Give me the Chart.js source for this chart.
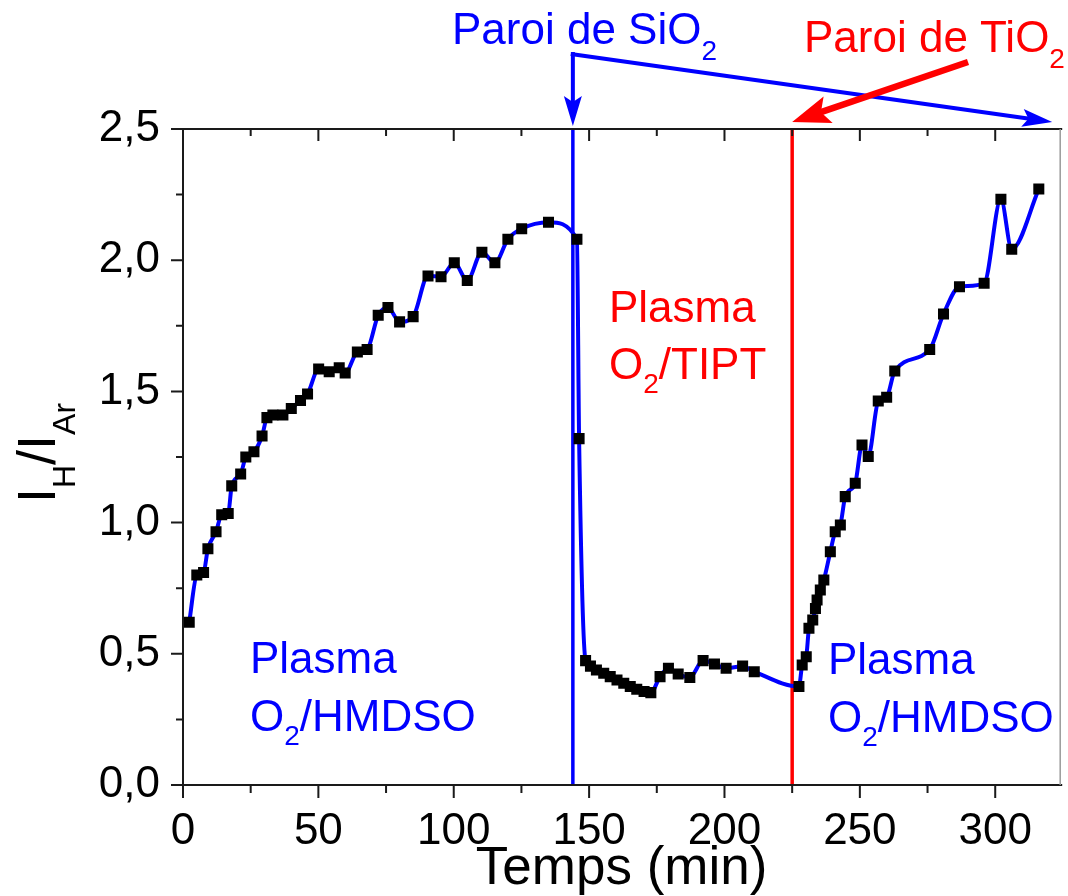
<!DOCTYPE html>
<html>
<head>
<meta charset="utf-8">
<script src="https://cdn.jsdelivr.net/npm/chart.js@4/dist/chart.umd.min.js"></script>
<style>
html,body{margin:0;padding:0;background:#ffffff;}
#wrap{width:1068px;height:896px;position:relative;}
</style>
</head>
<body>
<div id="wrap"><canvas id="c" width="1068" height="896"></canvas></div>
<script>
// ---- data ----
const timeMin = [
  2.3, 5.1, 7.6, 9.2, 12.2, 14.3, 16.7, 18.0, 21.3, 23.2, 26.2, 29.2, 31.0, 33.2, 36.9, 40.0, 43.4, 46.0,
  50.1, 54.0, 57.7, 59.9, 64.4, 68.0, 72.1, 75.7, 80.0, 85.0, 90.5, 95.3, 100.2, 105.0, 110.4, 115.2,
  120.0, 125.1, 135.0, 145.5, 146.3,
  148.7, 150.5, 152.7, 155.4, 157.8, 160.3, 162.8, 165.2, 167.6, 170.3, 172.8, 176.2, 179.3, 182.9,
  187.2, 192.1, 196.3, 200.6, 206.7, 211.0,
  227.5, 228.7, 230.2, 231.2, 232.6, 233.6, 234.2, 235.4, 236.7, 239.1, 240.9, 242.8, 244.6, 248.3,
  250.8, 253.1, 256.8, 259.9, 262.9, 275.8, 280.9, 286.8, 295.9, 302.1, 306.1, 316.1
];
const ratioIH = [
  0.62, 0.80, 0.81, 0.90, 0.965, 1.03, 1.035, 1.14, 1.185, 1.25, 1.27, 1.33, 1.40, 1.41, 1.41, 1.435, 1.465, 1.49,
  1.585, 1.575, 1.59, 1.57, 1.65, 1.66, 1.79, 1.82, 1.765, 1.785, 1.94, 1.937, 1.99, 1.923, 2.03, 1.99,
  2.08, 2.12, 2.145, 2.08, 1.32,
  0.474, 0.453, 0.438, 0.426, 0.413, 0.40, 0.388, 0.375, 0.365, 0.356, 0.352, 0.413, 0.445, 0.423,
  0.41, 0.474, 0.461, 0.445, 0.453, 0.432,
  0.375, 0.457, 0.489, 0.597, 0.629, 0.673, 0.705, 0.743, 0.781, 0.889, 0.965, 0.991, 1.099, 1.15,
  1.296, 1.252, 1.463, 1.478, 1.578, 1.66, 1.795, 1.899, 1.912, 2.232, 2.042, 2.271
];
const xTickValues = [0, 50, 100, 150, 200, 250, 300];
const xMinorValues = [25, 75, 125, 175, 225, 275];
const yTickValues = [0, 0.5, 1.0, 1.5, 2.0, 2.5];
const yMinorValues = [0.25, 0.75, 1.25, 1.75, 2.25];
const wallSiO2 = 144;   // min
const wallTiO2 = 225;   // min
const xLabel = 'Temps (min)';
const labelSiO2 = ['Paroi de SiO', '2'];
const labelTiO2 = ['Paroi de TiO', '2'];

const FONT = '"Liberation Sans", Arial, Helvetica, sans-serif';
const BLUE = '#0000ff';
const RED = '#ff0000';

const points = timeMin.map((t, i) => ({x: t, y: ratioIH[i]}));

function subText(ctx, x, y, parts, bigSize, smallSize, subDrop) {
  let cx = x;
  for (const [txt, sub] of parts) {
    ctx.font = (sub ? smallSize : bigSize) + 'px ' + FONT;
    ctx.fillText(txt, cx, sub ? y + subDrop : y);
    cx += ctx.measureText(txt).width;
  }
  return cx;
}

function arrow(ctx, x1, y1, x2, y2, color, lw, headLen, headW) {
  const ang = Math.atan2(y2 - y1, x2 - x1);
  const bx = x2 - headLen * Math.cos(ang), by = y2 - headLen * Math.sin(ang);
  ctx.save();
  ctx.strokeStyle = color; ctx.fillStyle = color; ctx.lineWidth = lw; ctx.lineCap = 'butt';
  ctx.beginPath(); ctx.moveTo(x1, y1); ctx.lineTo(bx + headLen * 0.3 * Math.cos(ang), by + headLen * 0.3 * Math.sin(ang)); ctx.stroke();
  const px = -Math.sin(ang), py = Math.cos(ang);
  ctx.beginPath();
  ctx.moveTo(x2, y2);
  ctx.lineTo(bx + px * headW / 2, by + py * headW / 2);
  ctx.lineTo(x2 - headLen * 0.8 * Math.cos(ang), y2 - headLen * 0.8 * Math.sin(ang));
  ctx.lineTo(bx - px * headW / 2, by - py * headW / 2);
  ctx.closePath(); ctx.fill();
  ctx.restore();
}

const decorPlugin = {
  id: 'decor',
  beforeDatasetsDraw(chart) {
    const ctx = chart.ctx, xs = chart.scales.x, ys = chart.scales.y;
    ctx.save();
    ctx.lineWidth = 3.5;
    ctx.strokeStyle = BLUE;
    const bx = xs.getPixelForValue(wallSiO2);
    ctx.beginPath(); ctx.moveTo(bx, ys.getPixelForValue(0)); ctx.lineTo(bx, ys.getPixelForValue(2.5)); ctx.stroke();
    ctx.strokeStyle = RED;
    const rx = xs.getPixelForValue(wallTiO2);
    ctx.beginPath(); ctx.moveTo(rx, ys.getPixelForValue(0)); ctx.lineTo(rx, ys.getPixelForValue(2.5)); ctx.stroke();
    ctx.restore();
  },
  afterDraw(chart) {
    const ctx = chart.ctx, xs = chart.scales.x, ys = chart.scales.y;
    const a = chart.chartArea;
    ctx.save();
    // frame
    ctx.strokeStyle = '#1a1a1a';
    ctx.lineWidth = 2;
    ctx.beginPath();
    ctx.moveTo(a.left, a.top); ctx.lineTo(a.left, a.bottom + 1);
    ctx.moveTo(a.left - 1, a.bottom); ctx.lineTo(a.right + 2, a.bottom);
    ctx.moveTo(a.left - 1, a.top); ctx.lineTo(a.right + 2, a.top);
    ctx.stroke();
    ctx.strokeStyle = '#9a9a9a'; ctx.lineWidth = 1.5;
    ctx.beginPath(); ctx.moveTo(a.right, a.top); ctx.lineTo(a.right, a.bottom); ctx.stroke();
    // ticks
    ctx.strokeStyle = '#1a1a1a'; ctx.lineWidth = 2;
    ctx.beginPath();
    for (const v of xTickValues) {
      const p = xs.getPixelForValue(v);
      ctx.moveTo(p, a.bottom); ctx.lineTo(p, a.bottom + 13);
      ctx.moveTo(p, a.top); ctx.lineTo(p, a.top + 12);
    }
    for (const v of xMinorValues) {
      const p = xs.getPixelForValue(v);
      ctx.moveTo(p, a.bottom); ctx.lineTo(p, a.bottom + 8);
      ctx.moveTo(p, a.top); ctx.lineTo(p, a.top + 7);
    }
    for (const v of yTickValues) {
      const p = ys.getPixelForValue(v);
      ctx.moveTo(a.left, p); ctx.lineTo(a.left - 12, p);
    }
    for (const v of yMinorValues) {
      const p = ys.getPixelForValue(v);
      ctx.moveTo(a.left, p); ctx.lineTo(a.left - 7, p);
    }
    ctx.stroke();

    // axis titles
    ctx.fillStyle = '#000';
    ctx.textBaseline = 'alphabetic';
    ctx.textAlign = 'center';
    ctx.font = '53px ' + FONT;
    ctx.fillText(xLabel, (a.left + a.right) / 2, 884);
    ctx.textAlign = 'left';
    ctx.save();
    const yParts = [['I', false], ['H', true], ['/', false], ['I', false], ['Ar', true]];
    let w = 0;
    for (const [t, s] of yParts) { ctx.font = (s ? 32 : 54) + 'px ' + FONT; w += ctx.measureText(t).width; }
    ctx.translate(55, (a.top + a.bottom) / 2 + w / 2 - 4);
    ctx.rotate(-Math.PI / 2);
    subText(ctx, 0, 0, yParts, 54, 32, 20);
    ctx.restore();

    // in-plot labels
    ctx.fillStyle = BLUE;
    subText(ctx, 250, 673, [['Plasma', false]], 44, 28, 14);
    subText(ctx, 250, 731, [['O', false], ['2', true], ['/HMDSO', false]], 44, 28, 14);
    subText(ctx, 828, 674, [['Plasma', false]], 44, 28, 14);
    subText(ctx, 828, 732, [['O', false], ['2', true], ['/HMDSO', false]], 44, 28, 14);
    ctx.fillStyle = RED;
    subText(ctx, 609, 322, [['Plasma', false]], 44, 28, 14);
    subText(ctx, 609, 379, [['O', false], ['2', true], ['/TIPT', false]], 44, 28, 14);

    // top annotations
    ctx.fillStyle = BLUE;
    subText(ctx, 452, 44, [[labelSiO2[0], false], [labelSiO2[1], true]], 44, 28, 16);
    ctx.fillStyle = RED;
    subText(ctx, 804, 52, [[labelTiO2[0], false], [labelTiO2[1], true]], 44, 28, 16);

    const bx = xs.getPixelForValue(wallSiO2);
    const rx = xs.getPixelForValue(wallTiO2);
    arrow(ctx, bx, 54, bx, a.top - 3, BLUE, 4, 30, 18);
    arrow(ctx, bx - 2, 54, a.right - 8, a.top - 7, BLUE, 4, 30, 18);
    ctx.strokeStyle = BLUE; ctx.lineWidth = 4;
    ctx.beginPath(); ctx.moveTo(bx - 2, 54); ctx.lineTo(bx + 2, 54); ctx.stroke();
    arrow(ctx, 968, 62, rx, a.top - 7, RED, 6.5, 38, 28);
    ctx.restore();
  }
};

new Chart(document.getElementById('c'), {
  type: 'scatter',
  data: {
    datasets: [
      {
        label: 'points',
        data: points,
        showLine: false,
        pointStyle: 'rect',
        pointRadius: 7.8,
        pointHoverRadius: 7.8,
        backgroundColor: '#000000',
        borderColor: '#000000',
        borderWidth: 0,
        order: 0
      },
      {
        label: 'curve',
        data: points,
        showLine: true,
        pointRadius: 0,
        borderColor: BLUE,
        borderWidth: 4,
        cubicInterpolationMode: 'monotone',
        fill: false,
        order: 1
      }
    ]
  },
  options: {
    responsive: false,
    devicePixelRatio: 1,
    animation: false,
    layout: {padding: {top: 129, right: 1, left: 0, bottom: 0}},
    plugins: {legend: {display: false}, tooltip: {enabled: false}, title: {display: false}},
    scales: {
      x: {
        type: 'linear', min: 0, max: 324,
        afterBuildTicks: s => { s.ticks = xTickValues.map(v => ({value: v})); },
        afterFit: s => { s.height = 111; },
        grid: {display: false}, border: {display: false},
        ticks: {color: '#000', font: {family: FONT, size: 44}, padding: 12, maxRotation: 0, autoSkip: false,
                callback: v => String(v)}
      },
      y: {
        type: 'linear', min: 0, max: 2.5,
        afterBuildTicks: s => { s.ticks = yTickValues.map(v => ({value: v})); },
        afterFit: s => { s.width = 183; },
        grid: {display: false}, border: {display: false},
        ticks: {color: '#000', font: {family: FONT, size: 44}, padding: 15, autoSkip: false,
                callback: v => Number(v).toFixed(1).replace('.', ',')}
      }
    }
  },
  plugins: [decorPlugin]
});
</script>
</body>
</html>
